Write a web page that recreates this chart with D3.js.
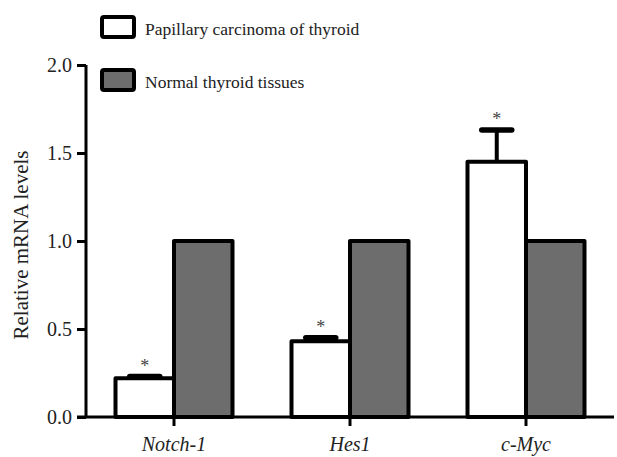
<!DOCTYPE html>
<html><head><meta charset="utf-8">
<script src="https://cdn.jsdelivr.net/npm/d3@7"></script>
<style>body{margin:0;background:#fff}</style>
</head><body>
<svg id="c" width="617" height="457"></svg>
<script>
const categories = ["Notch-1", "Hes1", "c-Myc"];
const seriesNames = ["Papillary carcinoma of thyroid", "Normal thyroid tissues"];
const carcinoma = [0.22, 0.43, 1.45];
const carcinomaErr = [0.01, 0.02, 0.18];
const normal = [1.0, 1.0, 1.0];
const yTicks = [0, 0.5, 1.0, 1.5, 2.0];

const svg = d3.select("#c");
const font = "Liberation Serif";
const x = d3.scaleBand().domain(categories).range([86, 614]).padding(0);
const y = d3.scaleLinear().domain([0, 2]).range([417, 65]);
const fills = ["#ffffff", "#6d6d6d"];
const bw = 58.5;
const fs = 20;

const data = [];
categories.forEach((c, i) => {
  data.push({c, s: 0, v: carcinoma[i], e: carcinomaErr[i]});
  data.push({c, s: 1, v: normal[i], e: 0});
});
const cx = d => x(d.c) + x.bandwidth() / 2;
const bx = d => cx(d) + (d.s === 0 ? -bw : 0);

// error bars
const eb = svg.append("g");
data.filter(d => d.s === 0).forEach(d => {
  const m = cx(d) - bw / 2;
  eb.append("line").attr("x1", m).attr("x2", m).attr("y1", y(d.v)).attr("y2", y(d.v + d.e))
    .attr("stroke", "#000").attr("stroke-width", 4);
  eb.append("line").attr("x1", m - 15).attr("x2", m + 15).attr("y1", y(d.v + d.e)).attr("y2", y(d.v + d.e))
    .attr("stroke", "#000").attr("stroke-width", 5.5).attr("stroke-linecap", "round");
  eb.append("text").attr("x", m).attr("y", y(d.v + d.e) - 5).attr("text-anchor", "middle")
    .attr("font-family", font).attr("font-size", 18).attr("fill", "#444").text("*");
});

svg.append("g").selectAll("rect").data(data).join("rect")
  .attr("x", bx).attr("width", bw)
  .attr("y", d => y(d.v)).attr("height", d => y(0) - y(d.v))
  .attr("fill", d => fills[d.s]).attr("stroke", "#000").attr("stroke-width", 4)
  .attr("stroke-linejoin", "round");

// y axis
const ya = svg.append("g").attr("transform", "translate(86,0)")
  .call(d3.axisLeft(y).tickValues(yTicks).tickFormat(d3.format(".1f")).tickSize(9).tickPadding(5));
ya.attr("font-family", font).attr("font-size", fs);
ya.select(".domain").attr("stroke-width", 3).attr("d", `M0,${y(2)}V${y(0)}`);
ya.selectAll(".tick line").attr("stroke-width", 3);
ya.selectAll(".tick text").attr("fill", "#222");

// x axis
const xa = svg.append("g").attr("transform", "translate(0,417)")
  .call(d3.axisBottom(x).tickSize(9).tickPadding(11));
xa.attr("font-family", font).attr("font-size", fs);
xa.select(".domain").attr("stroke-width", 3).attr("d", `M77,0H614`);
xa.selectAll(".tick line").attr("stroke-width", 3);
xa.selectAll(".tick text").attr("font-style", "italic").attr("fill", "#222");

// y title
svg.append("text").attr("transform", `translate(28,245) rotate(-90)`)
  .attr("text-anchor", "middle").attr("font-family", font).attr("font-size", 21).attr("fill", "#222")
  .text("Relative mRNA levels");

// legend
const lg = svg.append("g");
seriesNames.forEach((n, i) => {
  const yy = 17 + i * 53;
  lg.append("rect").attr("x", 102).attr("y", yy).attr("width", 32).attr("height", 20).attr("rx", 2)
    .attr("fill", fills[i]).attr("stroke", "#000").attr("stroke-width", 4);
  lg.append("text").attr("x", 145).attr("y", yy + 18).attr("font-family", font).attr("font-size", 17.5)
    .attr("fill", "#222").text(n);
});
</script>
</body></html>
